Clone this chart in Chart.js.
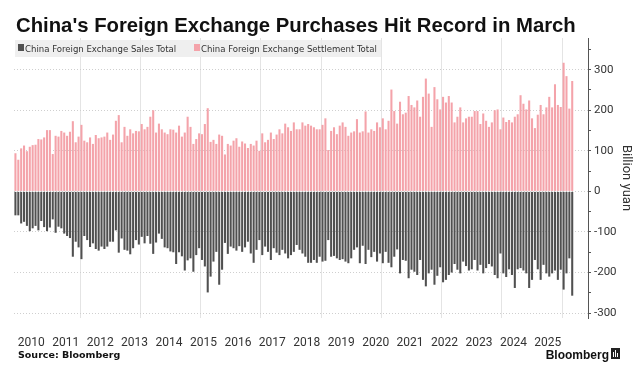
<!DOCTYPE html>
<html>
<head>
<meta charset="utf-8">
<script src="https://cdn.jsdelivr.net/npm/chart.js@4.4.1/dist/chart.umd.min.js"></script>
<style>
  html, body { margin: 0; padding: 0; background: #fff; }
  canvas { display: block; }
</style>
</head>
<body>
<canvas id="chart" width="644" height="377"></canvas>
<script>
// ---- data (billion yuan, monthly, Jan 2010 - Mar 2026) ----
const startYear = 2010;
const slotCount = 200; // a few empty months after the last bar

const settlement = [
  94, 78, 106, 113, 99, 110, 114, 115, 129, 128, 133, 151,
  151, 92, 137, 135, 149, 145, 137, 147, 173, 121, 135, 164,
  125, 121, 133, 117, 139, 131, 133, 135, 145, 127, 140, 174,
  188, 121, 159, 137, 153, 143, 149, 148, 166, 153, 159, 184,
  200, 145, 167, 153, 145, 141, 153, 152, 145, 162, 135, 145,
  184, 159, 117, 129, 143, 141, 166, 205, 122, 127, 117, 140,
  137, 91, 117, 113, 125, 131, 110, 123, 118, 107, 117, 113,
  125, 100, 143, 121, 127, 145, 129, 140, 153, 143, 167, 158,
  149, 170, 153, 153, 170, 162, 166, 162, 158, 153, 153, 164,
  180, 102, 149, 158, 141, 162, 170, 159, 137, 145, 148, 178,
  145, 148, 197, 145, 153, 149, 170, 158, 180, 153, 174, 251,
  198, 167, 221, 190, 194, 235, 213, 207, 224, 184, 233, 278,
  241, 159, 257, 227, 202, 233, 219, 235, 219, 170, 184, 207,
  170, 180, 184, 184, 198, 198, 166, 192, 174, 159, 170, 200,
  202, 153, 182, 171, 176, 170, 184, 190, 237, 216, 202, 224,
  180, 156, 189, 213, 190, 207, 233, 207, 264, 213, 208, 317,
  284, 204, 272
];

const sales = [
  -59, -59, -79, -75, -85, -98, -91, -85, -96, -73, -88, -98,
  -89, -69, -102, -87, -91, -104, -110, -115, -161, -124, -138, -167,
  -110, -120, -137, -128, -142, -146, -136, -142, -136, -124, -124, -96,
  -151, -116, -144, -146, -155, -140, -120, -131, -112, -128, -110, -129,
  -154, -126, -104, -117, -138, -140, -148, -150, -179, -150, -160, -195,
  -170, -165, -198, -157, -140, -169, -185, -249, -210, -173, -149, -230,
  -193, -127, -154, -136, -140, -146, -135, -149, -138, -124, -153, -176,
  -144, -120, -157, -136, -149, -169, -140, -151, -157, -144, -153, -165,
  -157, -149, -132, -144, -153, -161, -176, -176, -169, -176, -161, -173,
  -171, -120, -161, -159, -165, -169, -167, -173, -177, -165, -144, -138,
  -177, -134, -179, -144, -162, -149, -173, -153, -177, -149, -176, -187,
  -161, -143, -202, -169, -171, -214, -193, -198, -206, -169, -218, -234,
  -202, -193, -230, -208, -187, -224, -218, -206, -200, -179, -193, -202,
  -173, -184, -195, -192, -169, -195, -181, -202, -189, -179, -185, -206,
  -214, -153, -202, -211, -192, -206, -238, -192, -189, -195, -202, -238,
  -218, -169, -192, -218, -181, -202, -210, -202, -195, -218, -193, -242,
  -202, -165, -257
];

const yearLabels = ['2010', '2011', '2012', '2013', '2014', '2015', '2016', '2017',
  '2018', '2019', '2020', '2021', '2022', '2023', '2024', '2025'];
const gridYears = [2012, 2014, 2016, 2018, 2020, 2022, 2024, 2026];

const seriesNames = ['China Foreign Exchange Sales Total', 'China Foreign Exchange Settlement Total'];
const titleText = "China's Foreign Exchange Purchases Hit Record in March";

const PINK = '#f4a3aa';
const DARK = '#505050';
const TXT = '#333333';

// month slots
const months = [];
for (let i = 0; i < slotCount; i++) {
  const y = startYear + Math.floor(i / 12);
  const m = (i % 12) + 1;
  months.push(y + '-' + String(m).padStart(2, '0'));
}

// ------------------ DECORATIONS ------------------
function fitFont(ctx, text, weight, family, target) {
  ctx.font = weight + ' 100px ' + family;
  return 100 * target / ctx.measureText(text).width;
}

const decorations = {
  id: 'decorations',
  afterDraw(chart) {
    const ctx = chart.ctx;
    ctx.save();

    // title
    const tSize = fitFont(ctx, titleText, 'bold', '"Liberation Sans"', 560);
    ctx.font = 'bold ' + tSize + 'px "Liberation Sans"';
    ctx.fillStyle = '#111';
    ctx.textBaseline = 'alphabetic';
    ctx.fillText(titleText, 16, 32);

    // legend
    ctx.fillStyle = 'rgba(236,236,236,0.85)';
    ctx.fillRect(15, 40, 366, 17);
    const lSize = fitFont(ctx, seriesNames[1], 'normal', '"DejaVu Sans Condensed"', 176);
    ctx.font = lSize + 'px "DejaVu Sans Condensed"';
    const swatches = [DARK, PINK];
    const starts = [18, 194];
    seriesNames.forEach((name, i) => {
      ctx.fillStyle = swatches[i];
      ctx.fillRect(starts[i], 44, 6, 7);
      ctx.fillStyle = TXT;
      ctx.fillText(name, starts[i] + 7, 52);
    });

    // footer
    ctx.font = 'bold 9.5px "DejaVu Sans"';
    ctx.fillStyle = '#111';
    ctx.fillText('Source: Bloomberg', 18, 358);

    ctx.font = 'bold 12px "Liberation Sans"';
    ctx.textAlign = 'right';
    ctx.fillText('Bloomberg', 609, 359);
    ctx.fillStyle = '#222';
    ctx.fillRect(611, 348, 9, 11);
    ctx.fillStyle = '#fff';
    ctx.fillRect(613, 352, 1, 5);
    ctx.fillRect(615, 350, 1, 7);
    ctx.fillRect(617, 353, 1, 4);
    ctx.restore();
  }
};

// ------------------ CHART ------------------
const ctx = document.getElementById('chart').getContext('2d');

new Chart(ctx, {
  type: 'bar',
  data: {
    labels: months,
    datasets: [
      {
        label: seriesNames[0],
        data: sales,
        backgroundColor: DARK,
        barPercentage: 0.72,
        categoryPercentage: 1.0
      },
      {
        label: seriesNames[1],
        data: settlement,
        backgroundColor: PINK,
        barPercentage: 0.72,
        categoryPercentage: 1.0
      }
    ]
  },
  options: {
    responsive: false,
    animation: false,
    devicePixelRatio: 1,
    layout: { padding: { top: 38, left: 14, right: 10, bottom: 24 } },
    plugins: {
      legend: { display: false },
      title: { display: false },
      tooltip: { enabled: false }
    },
    scales: {
      x: {
        stacked: true,
        grid: { display: false },
        border: { display: false },
        afterFit: s => { s.height = 35; },
        ticks: {
          autoSkip: false,
          maxRotation: 0,
          padding: 10,
          labelOffset: -1.4,
          color: TXT,
          font: { family: 'Roboto', size: 12 },
          callback: (v, i) => {
            const year = startYear + Math.floor(i / 12);
            return (i % 12 === 6 && yearLabels.includes(String(year))) ? String(year) : '';
          }
        }
      },
      xg: {
        type: 'linear',
        position: 'bottom',
        min: -0.5,
        max: slotCount - 0.5,
        afterBuildTicks: s => {
          s.ticks = gridYears.map(y => ({ value: (y - startYear) * 12 - 0.5 }));
        },
        afterFit: s => { s.height = 0; },
        grid: { color: '#e4e4e4', drawTicks: false },
        border: { display: false },
        ticks: { display: false }
      },
      y: {
        position: 'right',
        stacked: true,
        min: -312,
        max: 378,
        afterBuildTicks: s => {
          const t = [];
          for (let v = -300; v <= 350; v += 50) t.push({ value: v });
          s.ticks = t;
        },
        afterFit: s => { s.width = 46; },
        grid: {
          color: c => (c.tick && c.tick.value % 100 === 0) ? '#cfcfcf' : 'rgba(0,0,0,0)',
          tickColor: '#555',
          tickLength: 3
        },
        border: { color: '#555', dash: [1, 2] },
        ticks: {
          padding: 3,
          color: TXT,
          font: { family: 'Roboto', size: 11.5 },
          callback: v => (v % 100 === 0 ? String(v) : '')
        },
        title: {
          display: true,
          text: 'Billion yuan',
          color: TXT,
          padding: 0,
          font: { family: 'Roboto', size: 13 }
        }
      }
    }
  },
  plugins: [decorations]
});
</script>
</body>
</html>
